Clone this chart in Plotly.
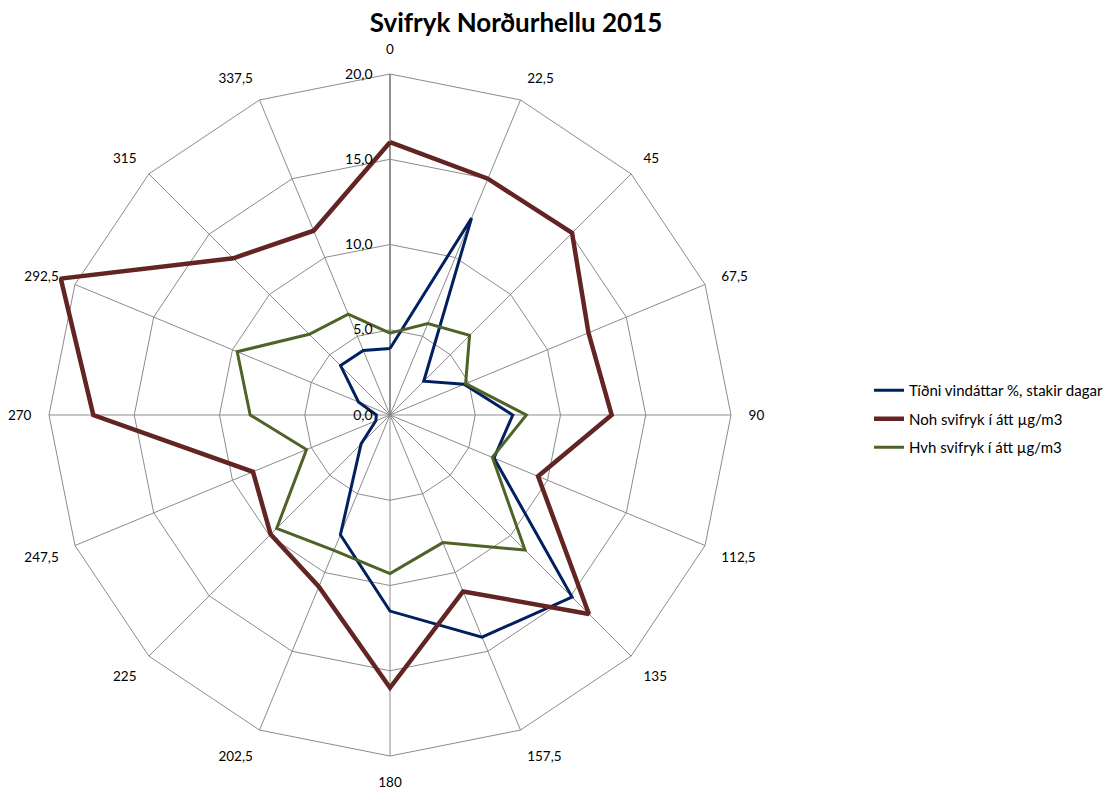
import plotly.graph_objects as go

directions = [0, 22.5, 45, 67.5, 90, 112.5, 135, 157.5, 180, 202.5, 225, 247.5, 270, 292.5, 315, 337.5]
direction_labels = ["0", "22,5", "45", "67,5", "90", "112,5", "135", "157,5", "180",
                    "202,5", "225", "247,5", "270", "292,5", "315", "337,5"]

tidni = [3.9, 12.5, 2.8, 4.7, 7.2, 6.6, 15.1, 14.1, 11.5, 7.6, 2.4, 0.9, 0.8, 2.0, 4.1, 4.1]
noh = [16.0, 15.0, 15.1, 12.6, 13.0, 9.4, 16.5, 11.2, 16.0, 10.9, 9.9, 8.7, 17.4, 20.9, 13.0, 11.7]
hvh = [4.8, 5.8, 6.6, 4.8, 8.0, 6.5, 11.2, 8.1, 9.3, 8.6, 9.4, 5.3, 8.2, 9.7, 6.7, 6.4]

radial_ticks = [0, 5, 10, 15, 20]
radial_labels = ["0,0", "5,0", "10,0", "15,0", "20,0"]
axis_max = 20
range_max = 21.0  # room so the 292,5 spike is not clipped

series = [
    ("Tíðni vindáttar %, stakir dagar", tidni, "#002060", 3),
    ("Noh svifryk í átt µg/m3", noh, "#632523", 4.5),
    ("Hvh svifryk í átt µg/m3", hvh, "#4F6228", 3),
]

FONT = "Lato"
GRID = "#8c8c8c"
fig = go.Figure()

# spokes from 0 to the axis maximum
sr, st = [], []
for lab in direction_labels:
    sr += [0, axis_max, None]
    st += [lab, lab, lab]
fig.add_trace(go.Scatterpolar(r=sr, theta=st, mode="lines", showlegend=False,
                              hoverinfo="skip", line=dict(color=GRID, width=1),
                              connectgaps=False))
fig.add_trace(go.Scatterpolar(r=[0, axis_max], theta=[direction_labels[0]] * 2, mode="lines",
                              showlegend=False, hoverinfo="skip",
                              line=dict(color="#868686", width=1.6)))

for i, (name, vals, color, w) in enumerate(series):
    fig.add_trace(go.Scatterpolar(
        r=vals + vals[:1],
        theta=direction_labels + direction_labels[:1],
        mode="lines",
        name=name,
        legendgroup=f"g{i}",
        line=dict(color=color, width=w),
    ))

W, H = 1114, 790
cx, cy, R20 = 390, 415, 341
R = R20 * range_max / axis_max
fig.update_layout(
    width=W, height=H,
    paper_bgcolor="white", plot_bgcolor="white",
    margin=dict(l=0, r=0, t=0, b=0),
    font=dict(family=FONT, size=13, color="#000000"),
    title=dict(text="<b>Svifryk Norðurhellu 2015</b>", x=516 / W, xanchor="center",
               y=1 - 23 / H, yanchor="middle", font=dict(size=26, family=FONT)),
    showlegend=True,
    legend=dict(x=869 / W, y=1 - 419 / H, xanchor="left", yanchor="middle",
                tracegroupgap=6, traceorder="grouped",
                font=dict(size=15, family=FONT), itemwidth=30),
    polar=dict(
        domain=dict(x=[(cx - R) / W, (cx + R) / W], y=[(H - cy - R) / H, (H - cy + R) / H]),
        gridshape="linear",
        bgcolor="white",
        angularaxis=dict(
            type="category", categoryorder="array", categoryarray=direction_labels,
            direction="clockwise", rotation=90,
            showgrid=False, showline=False,
            ticks="", tickfont=dict(size=13.5, family=FONT),
        ),
        radialaxis=dict(
            range=[0, range_max], angle=90, tickangle=90,
            tickmode="array", tickvals=radial_ticks, ticktext=radial_labels,
            showgrid=True, gridcolor=GRID, gridwidth=1,
            showline=False,
            ticks="outside", ticklen=12, tickcolor="rgba(0,0,0,0)",
            side="counterclockwise",
            tickfont=dict(size=14, family=FONT),
        ),
    ),
)
# remove the browser's default 8px page margin so the figure fills the window exactly
fig.write_html("out.html", config={"displayModeBar": False},
               post_script="document.body.style.margin='0px';")
